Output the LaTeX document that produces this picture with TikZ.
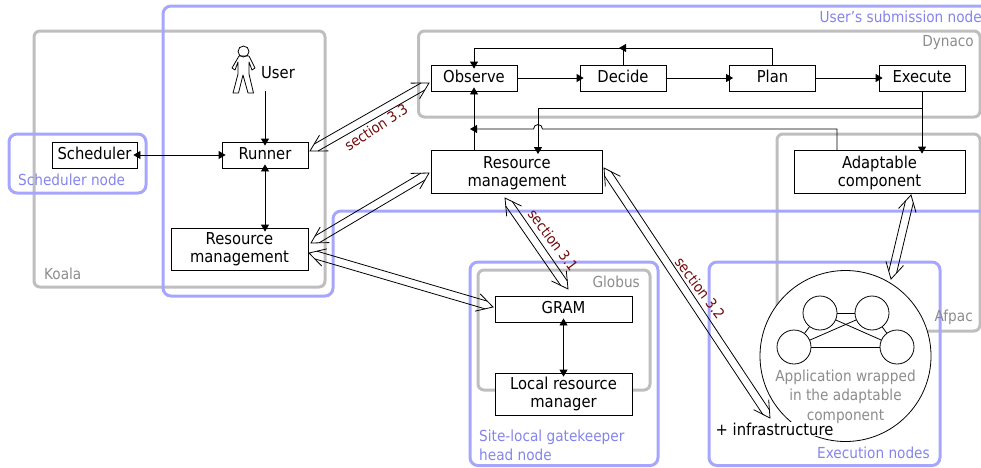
\documentclass[tikz,border=0pt]{standalone}
\usepackage{fontspec}
\setmainfont{DejaVu Sans Condensed}
\usetikzlibrary{arrows.meta,calc}
\definecolor{nodeblue}{HTML}{A6A6FF}
\definecolor{nodetext}{HTML}{8484EC}
\definecolor{partgrey}{HTML}{BEBEBE}
\definecolor{parttext}{HTML}{8C8C8C}
\definecolor{sectext}{HTML}{700A0A}
\tikzset{
    box/.style={draw,fill=white,line width=.8pt,inner sep=0pt,align=center,font=\fontsize{16.4}{18}\selectfont},
    lonebox/.style={box,text height=12pt,text depth=3.5pt},
    part/.style={draw=partgrey,line width=3pt,rounded corners=6pt},
    site/.style={draw=nodeblue,line width=3pt,rounded corners=8pt},
    partname/.style={text=parttext,inner sep=0pt,font=\fontsize{15.2}{19.5}\selectfont},
    sitename/.style={text=nodetext,inner sep=0pt,align=left,font=\fontsize{15.2}{19}\selectfont},
    secname/.style={text=sectext,inner sep=0pt,font=\fontsize{14.5}{16}\selectfont},
    flow/.style={->,line width=.8pt,shorten >=-4pt},
    flowboth/.style={flow,<->,shorten <=-4pt},
    widelink/.style={line width=.8pt},
    appnode/.style={circle,draw,fill=white,line width=.8pt,minimum size=34pt,inner sep=0pt}
}
\newcommand{\widelink}[2]{
    \draw[widelink] ($(#1)!16pt!(#2)!9pt!90:(#2)$) -- (#1) -- ($(#1)!16pt!(#2)!9pt!-90:(#2)$);
    \draw[widelink] ($(#2)!16pt!(#1)!9pt!90:(#1)$) -- (#2) -- ($(#2)!16pt!(#1)!9pt!-90:(#1)$);
    \draw[widelink] ($(#1)!7pt!(#2)!4pt!90:(#2)$) -- ($(#2)!7pt!(#1)!4pt!-90:(#1)$);
    \draw[widelink] ($(#1)!7pt!(#2)!4pt!-90:(#2)$) -- ($(#2)!7pt!(#1)!4pt!90:(#1)$);
}
\begin{document}
\begin{tikzpicture}[x=1pt,y=1pt,>={Stealth[length=7pt,width=8pt,inset=0pt]}]
    \clip (0,0) rectangle (981,-467);
    % software parts
    \draw[part] (34,-31) rectangle (325,-287);
    \draw[part] (418.5,-31) rectangle (980,-117);
    \draw[part] (777,-134) rectangle (980,-331);
    \draw[part] (478,-270) rectangle (650,-390);
    % machines
    \draw[site] (990,-6) -- (163,-6) -- (163,-296) -- (333,-296) -- (333,-211) -- (990,-211);
    \draw[site] (9,-134) rectangle (146,-193);
    \draw[site] (470,-262) rectangle (658,-465.5);
    \draw[site] (709,-262) rectangle (940,-465.5);
    \node[partname,anchor=west] (koalaname) at (44,-274) {Koala};
    \node[partname,anchor=east] (dynaconame) at (974,-43) {Dynaco};
    \node[partname,anchor=east] (globusname) at (640,-282) {Globus};
    \node[sitename,anchor=east] (submitname) at (982,-17) {User's submission node};
    \node[sitename,anchor=west] (schedname) at (18,-180) {Scheduler node};
    \node[sitename,anchor=north west] (gatename) at (479,-430) {Site-local gatekeeper\\head node};
    \node[sitename,anchor=east] (execname) at (930,-453) {Execution nodes};
    % application
    \node[circle,draw,fill=white,line width=.8pt,minimum size=171pt,inner sep=0pt] (app) at (845.5,-356) {};
    \node[partname,anchor=east] (afpacname) at (973,-317) {Afpac};
    \node[appnode] (pa) at (820,-313) {};
    \node[appnode] (pb) at (872,-313) {};
    \node[appnode] (pc) at (794,-347) {};
    \node[appnode] (pd) at (897,-347) {};
    \foreach \a/\b in {pa/pb,pc/pd,pa/pc,pb/pd,pa/pd,pb/pc}
        {
            \draw[line width=.8pt] (\a) -- (\b);
        }
    \node[partname,align=center] (appname) at (845.5,-396.5) {Application wrapped\\in the adaptable\\component};
    \node[fill=white,inner sep=1pt,font=\fontsize{16.4}{18}\selectfont] (infra) at (774.5,-429) {+ infrastructure};
    % boxes
    \node[lonebox,minimum width=85pt,minimum height=26pt] (sched) at (94.5,-155) {Scheduler};
    \node[lonebox,minimum width=86pt,minimum height=26pt] (runner) at (265,-155) {Runner};
    \node[box,minimum width=137pt,minimum height=42pt] (rmkoala) at (239.5,-249) {Resource\\management};
    \node[lonebox,minimum width=86pt,minimum height=26pt] (observe) at (474,-78) {Observe};
    \node[lonebox,minimum width=86pt,minimum height=26pt] (decide) at (623,-78) {Decide};
    \node[lonebox,minimum width=86pt,minimum height=26pt] (plan) at (772.5,-78) {Plan};
    \node[lonebox,minimum width=86pt,minimum height=26pt] (exec) at (922,-78) {Execute};
    \node[box,minimum width=171pt,minimum height=43pt] (rmdyn) at (517,-171.5) {\rule{0pt}{16pt}Resource\\management};
    \node[box,minimum width=171pt,minimum height=43pt] (adapt) at (879.5,-171.5) {\rule{0pt}{16pt}Adaptable\\component};
    \node[lonebox,minimum width=137pt,minimum height=26pt] (gram) at (563.5,-309) {GRAM};
    \node[box,minimum width=137pt,minimum height=42pt] (lrm) at (563.5,-394) {Local resource\\manager};
    % user
    \draw[line width=.8pt,fill=white] (243.5,-51.5) circle (5.5);
    \draw[line width=.8pt,line join=round] (239,-56) -- (232,-68) -- (235,-70) -- (238,-62) -- (238,-74) -- (233,-93) -- (238.5,-93) -- (243,-75) -- (248,-93) -- (253.5,-93) -- (249,-74) -- (249,-62) -- (252,-70) -- (255,-68) -- (249,-56) -- cycle;
    \node[inner sep=0pt,font=\fontsize{16.4}{18}\selectfont] (user) at (278,-73) {User};
    % plain connectors
    \coordinate (userout) at (265,-91);
    \coordinate (planback) at (623,-48);
    \coordinate (merge) at (474,-129);
    \coordinate (hop) at (542.5,-129);
    \coordinate (split) at (922,-108);
    \coordinate (rmin) at (538,-150);
    \coordinate (adaptout) at (837,-150);
    \draw[flow] (userout) -- (runner.north);
    \draw[flowboth] (sched.east) -- (runner.west);
    \draw[flowboth] (runner.south) -- (rmkoala.north -| runner.south);
    \draw[flow] (observe) -- (decide);
    \draw[flow] (decide) -- (plan);
    \draw[flow] (plan) -- (exec);
    \draw[flow] (plan.north) |- (planback);
    \draw[line width=.8pt] (decide.north) -- (planback);
    \draw[flow] (planback) -| (observe.north);
    \draw[flow] (rmdyn.north -| observe.south) -- (observe.south);
    \draw[flow] (exec.south) -- (exec.south |- adapt.north);
    \draw[flow] (split) -| (rmin);
    \draw[flow] (adaptout) |- (hop) arc (0:180:4.5) -- (merge);
    \draw[flowboth] (gram.south) -- (lrm.north);
    % wide links
    \coordinate (runnerend) at (310,-151);
    \coordinate (observeend) at (429,-83);
    \coordinate (koalaup) at (311,-243);
    \coordinate (dynleft) at (429,-173);
    \coordinate (koaladown) at (309,-253);
    \coordinate (gramleft) at (493,-307);
    \coordinate (dynlow) at (505,-198);
    \coordinate (gramtop) at (568,-289);
    \coordinate (dynright) at (604,-168);
    \coordinate (infraend) at (770,-418);
    \coordinate (adaptlow) at (911,-195);
    \coordinate (appedge) at (891,-279);
    \widelink{runnerend}{observeend}
    \widelink{koalaup}{dynleft}
    \widelink{koaladown}{gramleft}
    \widelink{dynlow}{gramtop}
    \widelink{dynright}{infraend}
    \widelink{adaptlow}{appedge}
    \node[secname,rotate=33] (secc) at (376,-127) {section 3.3};
    \node[secname,rotate=-53] (seca) at (553,-240) {section 3.1};
    \node[secname,rotate=-53] (secb) at (700,-288) {section 3.2};
\end{tikzpicture}
\end{document}
